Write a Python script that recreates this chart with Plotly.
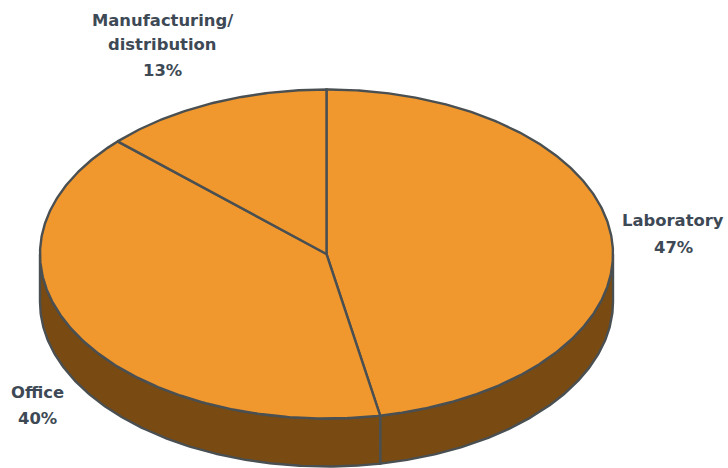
import numpy as np
import plotly.graph_objects as go

# Share of floor space by use
categories = ["Laboratory", "Office", "Manufacturing/<br>distribution"]
shares = [47, 40, 13]

# Tilted-disc geometry, in page pixels
CX, CY = 326.5, 254
RX, RY = 286.5, 164.5
DEPTH = 48

TOP_COLOR = "#F0982E"
SIDE_COLOR = "#794B12"
EDGE_COLOR = "#4A4F52"
TEXT_COLOR = "#3E4956"


def rim(start_deg, end_deg, drop=0.0):
    """Points on the disc rim, measured clockwise from twelve o'clock."""
    steps = max(int(abs(end_deg - start_deg) * 2), 2)
    t = np.radians(np.linspace(start_deg, end_deg, steps))
    return CX + RX * np.sin(t), CY - RY * np.cos(t) + drop


def outline(x, y, fill):
    return go.Scatter(
        x=x, y=y, mode="lines", fill="toself", fillcolor=fill,
        line=dict(color=EDGE_COLOR, width=2.4), hoverinfo="skip", showlegend=False,
    )


edges = np.concatenate([[0], np.cumsum(shares)]) * 3.6
fig = go.Figure()

# Front wall, split wherever a slice boundary falls on the visible half
for start, end in zip(edges[:-1], edges[1:]):
    a, b = max(start, 90), min(end, 270)
    if a < b:
        x1, y1 = rim(a, b)
        x2, y2 = rim(b, a, DEPTH)
        fig.add_trace(outline(np.r_[x1, x2, x1[0]], np.r_[y1, y2, y1[0]], SIDE_COLOR))

# Top face
for start, end in zip(edges[:-1], edges[1:]):
    x, y = rim(start, end)
    fig.add_trace(outline(np.r_[CX, x, CX], np.r_[CY, y, CY], TOP_COLOR))

# Label anchors for each slice: name lines, then the percentage
label_positions = [
    (673, [220], 247),
    (37, [392], 418),
    (162, [20, 44], 70),
]
for name, share, (lx, name_ys, pct_y) in zip(categories, shares, label_positions):
    lines = name.split("<br>") + [f"{share}%"]
    for text, ly in zip(lines, name_ys + [pct_y]):
        fig.add_annotation(
            x=lx, y=ly, text=text, showarrow=False, xanchor="center", yanchor="middle",
            font=dict(family="DejaVu Sans", size=16.4, color=TEXT_COLOR, weight="bold"),
        )

fig.update_layout(
    width=728, height=468, margin=dict(l=0, r=0, t=0, b=0),
    paper_bgcolor="white", plot_bgcolor="white",
    xaxis=dict(range=[0, 728], visible=False, fixedrange=True),
    yaxis=dict(range=[468, 0], visible=False, fixedrange=True),
)

fig.write_html("out.html", config=dict(displayModeBar=False))
